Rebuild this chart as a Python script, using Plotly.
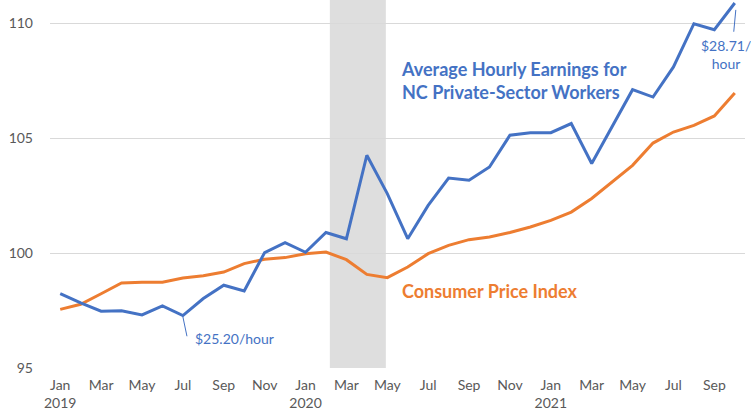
import plotly.graph_objects as go

month_labels = ["Jan", "Feb", "Mar", "Apr", "May", "Jun", "Jul", "Aug", "Sep", "Oct", "Nov", "Dec",
                "Jan", "Feb", "Mar", "Apr", "May", "Jun", "Jul", "Aug", "Sep", "Oct", "Nov", "Dec",
                "Jan", "Feb", "Mar", "Apr", "May", "Jun", "Jul", "Aug", "Sep", "Oct"]
years = ["2019"] * 12 + ["2020"] * 12 + ["2021"] * 10

earnings = [98.23, 97.83, 97.47, 97.49, 97.31, 97.70, 97.28, 98.02, 98.60, 98.35, 100.02, 100.45,
            100.03, 100.89, 100.62, 104.25, 102.58, 100.62, 102.07, 103.26, 103.16, 103.74, 105.12, 105.23,
            105.23, 105.63, 103.89, 105.52, 107.10, 106.78, 108.09, 109.97, 109.71, 110.87]
cpi = [97.55, 97.77, 98.23, 98.70, 98.73, 98.73, 98.91, 99.01, 99.17, 99.54, 99.73, 99.80,
       99.97, 100.04, 99.71, 99.07, 98.93, 99.39, 99.97, 100.33, 100.58, 100.70, 100.89, 101.13,
       101.42, 101.78, 102.37, 103.09, 103.81, 104.78, 105.26, 105.55, 105.96, 106.96]

recession_start, recession_end = 13.19, 15.93
low_idx, low_label = 6, "$25.20/hour"
high_idx, high_label = 33, "$28.71/<br>hour"

BLUE = "#4472C4"
ORANGE = "#ED7D31"
FONT = "Lato"

x = list(range(len(earnings)))
tickvals = x[::2]
ticktext = [m + ("<br>" + y if m == "Jan" else "") for m, y in zip(month_labels[::2], years[::2])]

fig = go.Figure()
fig.add_shape(type="rect", xref="x", yref="paper", x0=recession_start, x1=recession_end,
              y0=0, y1=1, fillcolor="#DEDEDE", line_width=0, layer="below")
fig.add_trace(go.Scatter(x=x, y=cpi, mode="lines", line=dict(color=ORANGE, width=3), showlegend=False,
                         hoverinfo="skip"))
fig.add_trace(go.Scatter(x=x, y=earnings, mode="lines", line=dict(color=BLUE, width=3), showlegend=False,
                         hoverinfo="skip"))

# leader lines
fig.add_shape(type="line", xref="x", yref="y", x0=low_idx, y0=earnings[low_idx] - 0.05,
              x1=low_idx + 0.2, y1=earnings[low_idx] - 0.9, line=dict(color=BLUE, width=1))
fig.add_shape(type="line", xref="x", yref="y", x0=high_idx + 0.05, y0=earnings[high_idx] - 0.3,
              x1=high_idx - 0.05, y1=earnings[high_idx] - 1.25, line=dict(color=BLUE, width=1))

fig.add_annotation(x=low_idx + 0.5, y=earnings[low_idx] - 0.98, text=low_label, showarrow=False,
                   xanchor="left", yanchor="middle", font=dict(family=FONT, size=14, color=BLUE))
fig.add_annotation(x=high_idx - 0.45, y=earnings[high_idx] - 2.25, text=high_label, showarrow=False,
                   xanchor="center", yanchor="middle", font=dict(family=FONT, size=14, color=BLUE))
fig.add_annotation(x=16.55, y=107.5, text="<b>Average Hourly Earnings for<br>NC Private-Sector Workers</b>",
                   showarrow=False, xanchor="left", yanchor="middle", align="left",
                   font=dict(family=FONT, size=18, color=BLUE))
fig.add_annotation(x=16.6, y=98.33, text="<b>Consumer Price Index</b>",
                   showarrow=False, xanchor="left", yanchor="middle", align="left",
                   font=dict(family=FONT, size=18, color=ORANGE))

fig.update_layout(
    width=751, height=412,
    margin=dict(l=50, r=6, t=0, b=44),
    plot_bgcolor="white", paper_bgcolor="white",
    font=dict(family=FONT, size=13, color="#595959"),
    xaxis=dict(range=[-0.5, len(x) - 0.5], tickvals=tickvals, ticktext=ticktext,
               showgrid=False, zeroline=False, showline=False, ticks="", ticklabelstandoff=7,
               tickfont=dict(size=14)),
    yaxis=dict(range=[95, 111], tickvals=[95, 100, 105, 110], showgrid=True, gridcolor="#D9D9D9",
               gridwidth=1, zeroline=False, showline=False, ticks="", ticklabelstandoff=16,
               tickfont=dict(size=14)),
)

fig.write_html("out.html", config={"displayModeBar": False},
               post_script="document.body.style.margin='0';document.body.style.overflow='hidden';")
